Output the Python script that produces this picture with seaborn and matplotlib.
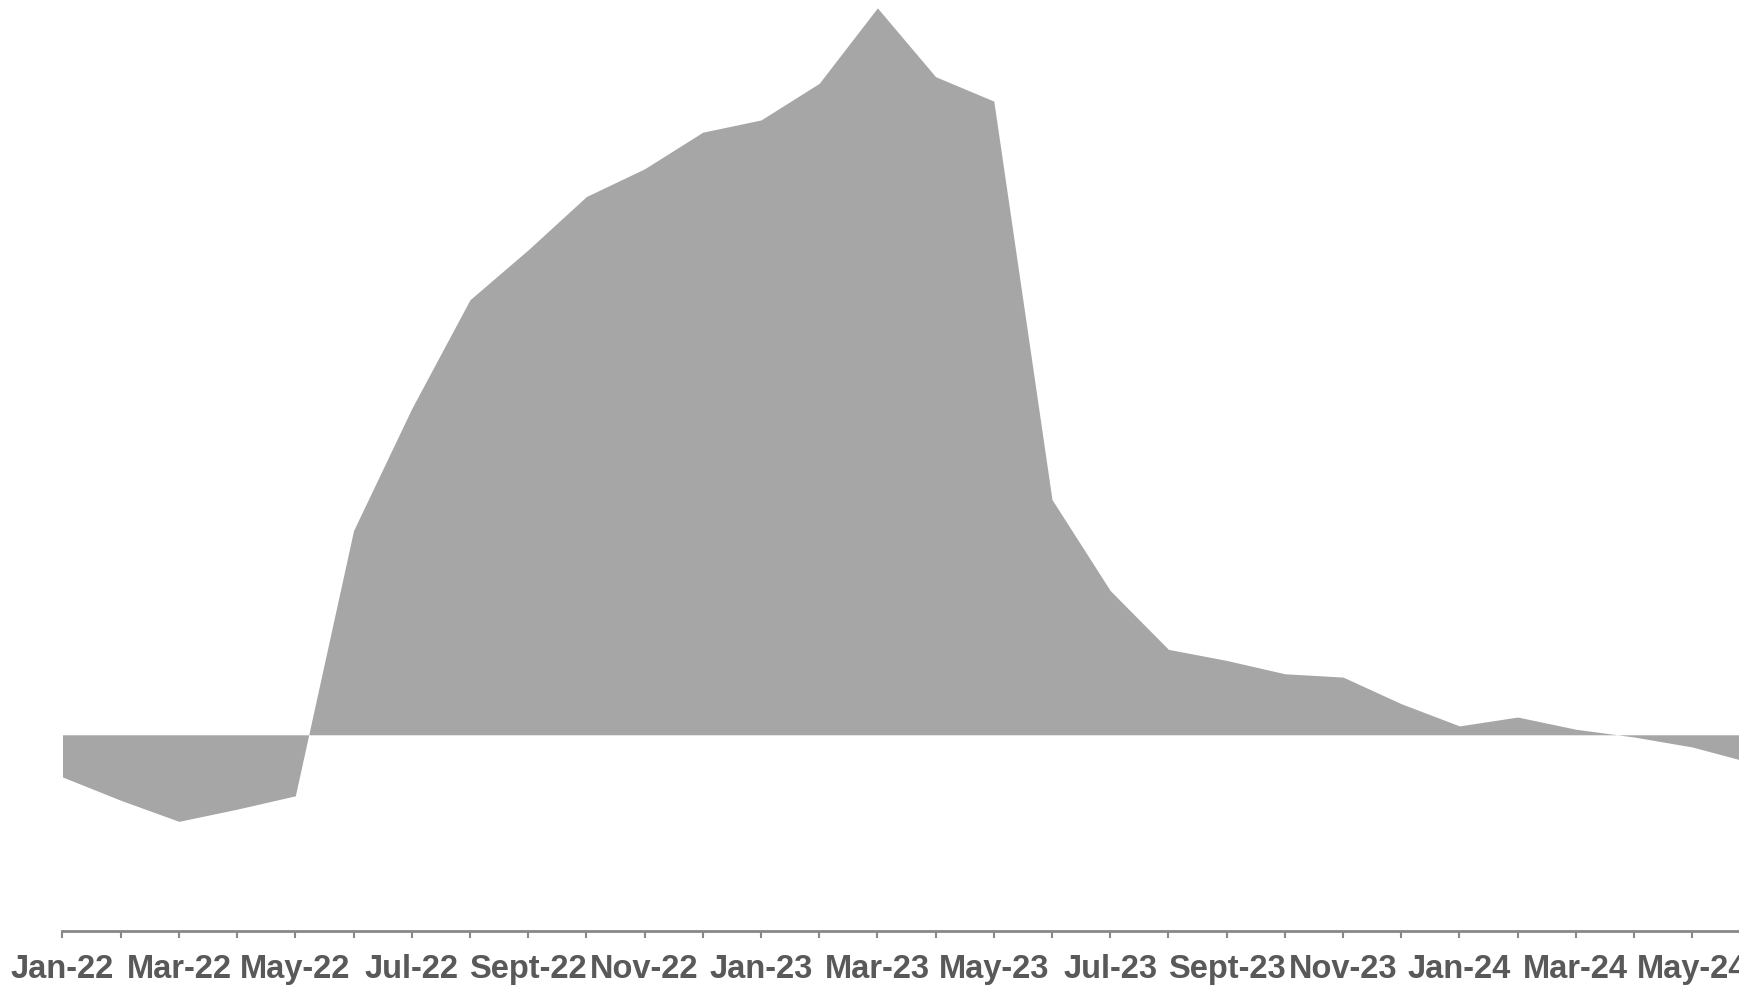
import seaborn as sns
import matplotlib.pyplot as plt
import pandas as pd
import numpy as np

months = ["Jan-22", "Feb-22", "Mar-22", "Apr-22", "May-22", "Jun-22", "Jul-22", "Aug-22",
          "Sept-22", "Oct-22", "Nov-22", "Dec-22", "Jan-23", "Feb-23", "Mar-23", "Apr-23",
          "May-23", "Jun-23", "Jul-23", "Aug-23", "Sept-23", "Oct-23", "Nov-23", "Dec-23",
          "Jan-24", "Feb-24", "Mar-24", "Apr-24", "May-24", "Jun-24"]
values = [-38, -59, -78, -67, -55, 184, 294, 392, 437, 485, 510, 543, 554, 587, 655,
          593, 571, 212, 130, 77, 67, 55, 52, 28, 8, 16, 5, -2, -11, -25]

df = pd.DataFrame({"idx": range(len(months)), "month": months, "value": values})

sns.set_style("white")
plt.rcParams['font.family'] = ['Liberation Sans', 'DejaVu Sans']

fig = plt.figure(figsize=(17.4, 9.87), dpi=100)
ax = fig.add_axes([62.5 / 1740, 0.0555, 1 - 62.5 / 1740, 0.991 - 0.0555])

sns.lineplot(data=df, x="idx", y="value", ax=ax, color="#A6A6A6", linewidth=0)
ax.fill_between(df["idx"], 0, df["value"], color="#A6A6A6", linewidth=0)

ax.set_xticks(df["idx"])
ax.set_xticklabels([m if i % 2 == 0 else "" for i, m in enumerate(months)],
                   fontsize=23.5, fontweight="bold", color="#595959")
ax.tick_params(axis="x", length=5, width=1.5, color="#888888", pad=11, bottom=True)
ax.set_yticks([])
ax.set_xlabel("")
ax.set_ylabel("")

# limits after the ticks, so set_xticks does not widen the view
ax.set_xlim(0, 28.82)
ax.set_ylim(-177, 655)

for s in ["top", "right", "left"]:
    ax.spines[s].set_visible(False)
ax.spines["bottom"].set_color("#888888")
ax.spines["bottom"].set_linewidth(2)

fig.savefig("out.png", dpi=100)
